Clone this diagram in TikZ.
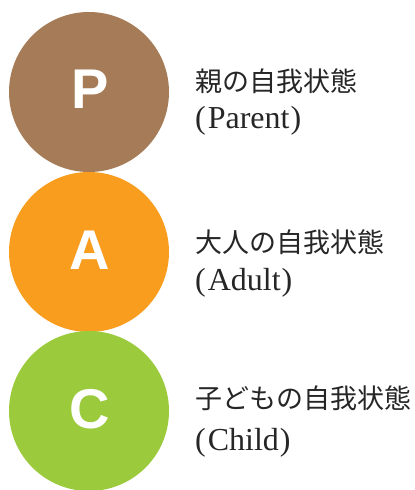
\documentclass[tikz,border=0pt]{standalone}
\usepackage{fontspec}
\setmainfont{Liberation Serif}
\newfontfamily\jpfont{Noto Sans CJK JP}
\newfontfamily\letterfont{Liberation Sans}
\definecolor{pbrown}{HTML}{A67B57}
\definecolor{aorange}{HTML}{F89D1E}
\definecolor{cgreen}{HTML}{9BCB3C}
\definecolor{txt}{HTML}{262626}
\newcommand{\lp}{(\kern2pt}
\newcommand{\rp}{\kern1pt)}
\begin{document}
\begin{tikzpicture}[x=1pt,y=-1pt,
  disc/.style={circle, inner sep=0pt, minimum size=160pt, draw=none},
  letter/.style={anchor=base, inner sep=0pt, text=white, font=\letterfont\bfseries\fontsize{56}{56}\selectfont},
  jpline/.style={anchor=base west, inner sep=0pt, text=txt, font=\jpfont\fontsize{27}{27}\selectfont},
  enline/.style={anchor=base west, inner sep=0pt, text=txt, font=\fontsize{32}{32}\selectfont}]
\useasboundingbox (0,0) rectangle (415,490);
\node[disc, fill=pbrown] (pc) at (89,92) {};
\node[disc, fill=aorange] (ac) at (89,252) {};
\node[disc, fill=cgreen] (cc) at (89,411) {};
\node[letter] (pl) at (90,108) {P};
\node[letter] (al) at (90,269) {A};
\node[letter] (cl) at (90,428) {C};
\node[jpline] (pt1) at (195,91) {親の自我状態};
\node[enline] (pt2) at (195,128) {\lp Parent\rp};
\node[jpline] (at1) at (195,252) {大人の自我状態};
\node[enline] (at2) at (195,290) {\lp Adult\rp};
\node[jpline] (ct1) at (195,408) {子どもの自我状態};
\node[enline] (ct2) at (195,450) {\lp Child\rp};
\end{tikzpicture}
\end{document}
